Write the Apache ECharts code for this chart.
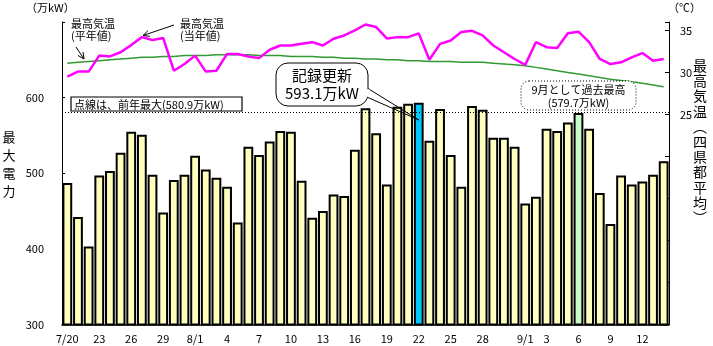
<!DOCTYPE html>
<html>
<head>
<meta charset="utf-8">
<script src="https://cdn.jsdelivr.net/npm/echarts@6/dist/echarts.min.js"></script>
<style>
  html, body { margin: 0; padding: 0; background: #fff; }
  #chart { width: 713px; height: 346px; }
</style>
</head>
<body>
<div id="chart"></div>
<script>
// Days from 7/20 to 9/14
const days = [
  '7/20','7/21','7/22','7/23','7/24','7/25','7/26','7/27','7/28','7/29','7/30','7/31',
  '8/1','8/2','8/3','8/4','8/5','8/6','8/7','8/8','8/9','8/10','8/11','8/12','8/13','8/14',
  '8/15','8/16','8/17','8/18','8/19','8/20','8/21','8/22','8/23','8/24','8/25','8/26','8/27',
  '8/28','8/29','8/30','8/31',
  '9/1','9/2','9/3','9/4','9/5','9/6','9/7','9/8','9/9','9/10','9/11','9/12','9/13','9/14'
];

// Days that get a label on the horizontal axis
const tickDays = ['7/20','7/23','7/26','7/29','8/1','8/4','8/7','8/10','8/13','8/16',
  '8/19','8/22','8/25','8/28','9/1','9/3','9/6','9/9','9/12'];

// Daily peak demand (万kW)
const peakDemand = [
  487, 442, 403, 497, 503, 527, 555, 551, 498, 448, 491, 498,
  523, 505, 494, 482, 435, 535, 524, 542, 556, 555, 490, 441, 450, 472,
  470, 531, 586, 553, 485, 588, 592, 593.1, 543, 585, 524, 482, 589,
  584, 547, 547, 535,
  460, 469, 559, 556, 567, 579.7, 559, 474, 433, 497, 485, 489, 498, 516
];

// Daily max temperature, this year (°C, average of four prefectural capitals)
const maxTempActual = [
  29.5, 30.1, 30.1, 32.0, 31.9, 32.4, 33.25, 34.2, 33.85, 34.1, 30.2, 31.0,
  32.0, 30.1, 30.2, 32.2, 32.2, 31.9, 31.7, 32.7, 33.2, 33.2, 33.4, 33.6, 33.2, 34.0,
  34.4, 35.0, 35.7, 35.4, 34.05, 34.2, 34.2, 34.65, 31.5, 33.4, 33.8, 34.8, 34.95,
  34.4, 33.2, 32.4, 31.6,
  30.9, 33.6, 33.0, 32.9, 34.65, 34.85, 33.6, 31.6, 31.0, 31.2, 31.8, 32.3, 31.4, 31.6
];

// Daily max temperature, normal values (°C)
const maxTempNormal = [
  31.1, 31.2, 31.3, 31.4, 31.5, 31.6, 31.7, 31.8, 31.8, 31.9, 31.9, 32.0,
  32.0, 32.0, 32.1, 32.1, 32.1, 32.1, 32.0, 32.0, 32.0, 31.9, 31.9, 31.9, 31.8, 31.8,
  31.7, 31.7, 31.6, 31.6, 31.5, 31.5, 31.4, 31.4, 31.3, 31.3, 31.3, 31.2, 31.2,
  31.2, 31.1, 31.0, 30.9,
  30.8, 30.6, 30.4, 30.2, 30.0, 29.8, 29.6, 29.4, 29.2, 29.05, 28.9, 28.7, 28.5, 28.3
];

const lastYearPeak = 580.9;     // previous year's maximum (dotted line)
const recordDay = '8/22';       // new all-time record
const septRecordDay = '9/6';    // highest ever for September

const FONT = '"Noto Sans CJK JP", "Noto Sans CJK SC", sans-serif';

const barData = peakDemand.map((v, i) => {
  let fill = '#FFFFC0';
  if (days[i] === recordDay) fill = '#00C8FF';
  else if (days[i] === septRecordDay) fill = '#C8FFC8';
  return { value: v, itemStyle: { color: fill } };
});

const chart = echarts.init(document.getElementById('chart'), null, { renderer: 'canvas' });

chart.setOption({
  animation: false,
  backgroundColor: '#fff',
  textStyle: { fontFamily: FONT },
  grid: { left: 62, right: 44, top: 22, bottom: 21.5 },
  xAxis: {
    type: 'category',
    data: days,
    boundaryGap: true,
    axisLine: { lineStyle: { color: '#000', width: 1.5 } },
    axisTick: { show: false },
    axisLabel: {
      interval: 0,
      color: '#000',
      fontSize: 11,
      fontFamily: FONT,
      margin: 9,
      formatter: (val, idx) => {
        if (tickDays.indexOf(val) < 0) return '';
        const [m, d] = val.split('/');
        return (idx === 0 || d === '1') ? val : d;
      }
    },
    splitLine: { show: false }
  },
  yAxis: [
    {
      type: 'value',
      min: 300, max: 700, interval: 100,
      axisLine: { show: true, lineStyle: { color: '#000', width: 1 } },
      axisTick: { show: true, inside: true, length: 3, lineStyle: { color: '#000' } },
      axisLabel: {
        color: '#000', fontSize: 11, fontFamily: FONT, margin: 18,
        formatter: v => (v === 700 ? '' : String(v))
      },
      splitLine: { show: false }
    },
    {
      type: 'value',
      position: 'right',
      min: 0, max: 36, interval: 5,
      axisLine: { show: true, lineStyle: { color: '#000', width: 1 } },
      axisTick: { show: true, inside: true, length: 4, lineStyle: { color: '#000' } },
      axisLabel: {
        color: '#000', fontSize: 11, fontFamily: FONT, margin: 11,
        formatter: v => ([25, 30, 35].indexOf(v) >= 0 ? String(v) : '')
      },
      splitLine: { show: false }
    }
  ],
  series: [
    {
      name: '最大電力',
      type: 'bar',
      data: barData,
      barCategoryGap: '8%',
      itemStyle: { borderColor: '#000', borderWidth: 2 },
      markLine: {
        silent: true,
        symbol: 'none',
        label: { show: false },
        lineStyle: { color: '#000', width: 1, type: [1, 2] },
        data: [{ yAxis: lastYearPeak }]
      }
    },
    {
      name: '最高気温(平年値)',
      type: 'line',
      yAxisIndex: 1,
      data: maxTempNormal,
      showSymbol: false,
      lineStyle: { color: '#339933', width: 1.5 },
      z: 3
    },
    {
      name: '最高気温(当年値)',
      type: 'line',
      yAxisIndex: 1,
      data: maxTempActual,
      showSymbol: false,
      lineStyle: { color: '#FF00FF', width: 2.5 },
      z: 4
    }
  ]
});

// ---- annotations ----
function arrow(x1, y1, x2, y2) {
  const ang = Math.atan2(y2 - y1, x2 - x1);
  const L = 7, a = 0.45;
  const p1 = [x2 - L * Math.cos(ang - a), y2 - L * Math.sin(ang - a)];
  const p2 = [x2 - L * Math.cos(ang + a), y2 - L * Math.sin(ang + a)];
  return [
    { type: 'line', shape: { x1, y1, x2, y2 }, style: { stroke: '#000', lineWidth: 1 }, z: 20 },
    { type: 'polyline', shape: { points: [p1, [x2, y2], p2] }, style: { stroke: '#000', fill: null, lineWidth: 1 }, z: 20 }
  ];
}

function txt(text, x, y, size, opts) {
  return Object.assign({
    type: 'text', x, y, z: 30,
    style: Object.assign({
      text, fill: '#000', fontSize: size, fontFamily: FONT,
      textAlign: 'left', textVerticalAlign: 'middle'
    }, (opts && opts.style) || {})
  }, (opts && opts.el) || {});
}

const recIdx = days.indexOf(recordDay);
const tip = chart.convertToPixel({ xAxisIndex: 0, yAxisIndex: 0 }, [recIdx, 570.5]);

const bx0 = 276, by0 = 63, bx1 = 368, by1 = 106;

const graphics = [
  // unit labels
  txt('（万kW）', 26, 8, 11),
  txt('（℃）', 668, 8, 11),
  // axis titles (vertical)
  txt('最\n大\n電\n力', 9, 128, 13, { style: { textAlign: 'center', textVerticalAlign: 'top', lineHeight: 18 } }),
  txt('最\n高\n気\n温\n︵\n四\n県\n都\n平\n均\n︶', 700, 58, 14, { style: { textAlign: 'center', textVerticalAlign: 'top', lineHeight: 15.2 } }),
  // series labels
  txt('最高気温\n(平年値)', 71, 30, 11, { style: { lineHeight: 12.5 } }),
  txt('最高気温\n(当年値)', 180, 30, 11, { style: { lineHeight: 12.5 } }),
  ...arrow(76, 47, 84, 59),
  ...arrow(174, 25, 143, 35.5),
  // previous-year note
  { type: 'rect', shape: { x: 71, y: 97, width: 171, height: 14 }, style: { fill: '#fff', stroke: '#000', lineWidth: 1.2 }, z: 25 },
  txt('点線は、前年最大(' + lastYearPeak.toFixed(1) + '万kW)', 74, 104.5, 11),
  // record callout
  { type: 'line', shape: { x1: bx1, y1: 88.5, x2: tip[0], y2: tip[1] }, style: { stroke: '#000', lineWidth: 1 }, z: 24 },
  { type: 'line', shape: { x1: bx1, y1: 97.5, x2: tip[0], y2: tip[1] }, style: { stroke: '#000', lineWidth: 1 }, z: 24 },
  { type: 'rect', shape: { x: bx0, y: by0, width: bx1 - bx0, height: by1 - by0, r: 12 }, style: { fill: '#fff', stroke: '#000', lineWidth: 1 }, z: 25 },
  { type: 'rect', shape: { x: bx1 - 1.5, y: 89.2, width: 3, height: 7.6 }, style: { fill: '#fff' }, z: 26 },
  txt('記録更新', 322, 75.5, 15, { style: { textAlign: 'center' } }),
  txt(peakDemand[recIdx].toFixed(1) + '万kW', 322, 93.5, 15, { style: { textAlign: 'center' } }),
  // September record callout
  { type: 'rect', shape: { x: 521, y: 81, width: 115, height: 29, r: 8 }, style: { fill: '#fff', stroke: '#000', lineWidth: 1, lineDash: [1, 2] }, z: 25 },
  txt('9月として過去最高', 578.5, 89.5, 11, { style: { textAlign: 'center' } }),
  txt('(' + peakDemand[days.indexOf(septRecordDay)].toFixed(1) + '万kW)', 578.5, 102.5, 11, { style: { textAlign: 'center' } })
];

chart.setOption({ graphic: graphics });
</script>
</body>
</html>
